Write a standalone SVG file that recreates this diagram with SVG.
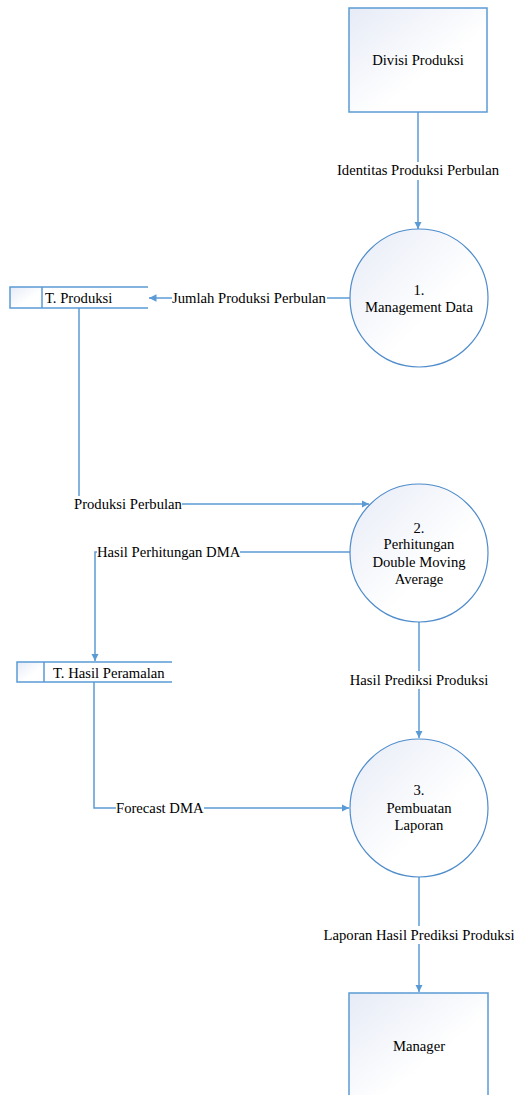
<svg xmlns="http://www.w3.org/2000/svg" width="514" height="1095" viewBox="0 0 514 1095">
<style>
text{font-family:"Liberation Serif","Times New Roman",serif;font-size:14.67px;fill:#000}
.c{text-anchor:middle}
.shape{stroke:#4f8ccb;stroke-width:1.2}
.ent{stroke:#5b9bd5;stroke-width:1.5}
.store{fill:none;stroke:#5b9bd5;stroke-width:1.5}
.flow{fill:none;stroke:#5b9bd5;stroke-width:1.5}
.lbl{fill:#fff}
</style>
<defs>
<linearGradient id="g" x1="0" y1="0" x2="1" y2="1">
<stop offset="0" stop-color="#e6ebf6"/>
<stop offset="0.6" stop-color="#ffffff"/>
</linearGradient>
<marker id="a" viewBox="0 0 10 10" refX="10" refY="5" markerWidth="5" markerHeight="5" orient="auto" markerUnits="strokeWidth">
<path d="M0,0 L10,5 L0,10 z" fill="#5b9bd5"/>
</marker>
</defs>
<g id="connectors">
<path class="flow" d="M418,112 V229" marker-end="url(#a)"/>
<path class="flow" d="M350,298 H149" marker-end="url(#a)"/>
<path class="flow" d="M79,308 V504 H369" marker-end="url(#a)"/>
<path class="flow" d="M350,552 H95 V661" marker-end="url(#a)"/>
<path class="flow" d="M419,622 V738" marker-end="url(#a)"/>
<path class="flow" d="M94,682 V808 H349" marker-end="url(#a)"/>
<path class="flow" d="M419,877 V992" marker-end="url(#a)"/>
<rect class="lbl" x="336" y="162" width="168" height="18"/>
<text class="c" x="418" y="175">Identitas Produksi Perbulan</text>
<rect class="lbl" x="172" y="290" width="155" height="16"/>
<text x="172" y="302.5">Jumlah Produksi Perbulan</text>
<rect class="lbl" x="73" y="496" width="109" height="16"/>
<text x="74" y="508.5">Produksi Perbulan</text>
<rect class="lbl" x="97" y="544" width="143" height="16"/>
<text x="97" y="556.5">Hasil Perhitungan DMA</text>
<rect class="lbl" x="350" y="671" width="140" height="18"/>
<text class="c" x="419" y="684.5">Hasil Prediksi Produksi</text>
<rect class="lbl" x="116" y="800" width="88" height="16"/>
<text x="116" y="812.5">Forecast DMA</text>
<rect class="lbl" x="323" y="926" width="191" height="18"/>
<text class="c" x="419" y="939.5">Laporan Hasil Prediksi Produksi</text>
</g>
<g id="divisi-produksi">
<rect class="ent" x="349" y="8" width="138" height="104" fill="url(#g)"/>
<text class="c" x="418" y="65">Divisi Produksi</text>
</g>
<g id="p1">
<circle class="shape" cx="419" cy="298" r="69" fill="url(#g)"/>
<text class="c" x="419" y="295">1.</text>
<text class="c" x="419" y="312">Management Data</text>
</g>
<g id="t-produksi">
<rect x="10" y="287" width="32" height="21" fill="url(#g)" stroke="none"/>
<path class="store" d="M148,287 H10 V308 H148 M42,287 V308"/>
<text x="45" y="302.5">T. Produksi</text>
</g>
<g id="p2">
<circle class="shape" cx="419" cy="553" r="69" fill="url(#g)"/>
<text class="c" x="419" y="532.5">2.</text>
<text class="c" x="419" y="549">Perhitungan</text>
<text class="c" x="419" y="566.5">Double Moving</text>
<text class="c" x="419" y="583.5">Average</text>
</g>
<g id="t-hasil-peramalan">
<rect x="17" y="662" width="27" height="20" fill="url(#g)" stroke="none"/>
<path class="store" d="M172,662 H17 V682 H172 M44,662 V682"/>
<text x="53" y="677.5">T. Hasil Peramalan</text>
</g>
<g id="p3">
<circle class="shape" cx="419" cy="808" r="69" fill="url(#g)"/>
<text class="c" x="419" y="794.5">3.</text>
<text class="c" x="419" y="812.5">Pembuatan</text>
<text class="c" x="419" y="830">Laporan</text>
</g>
<g id="manager">
<rect class="ent" x="349" y="993" width="139" height="110" fill="url(#g)"/>
<text class="c" x="419" y="1051">Manager</text>
</g>
</svg>
